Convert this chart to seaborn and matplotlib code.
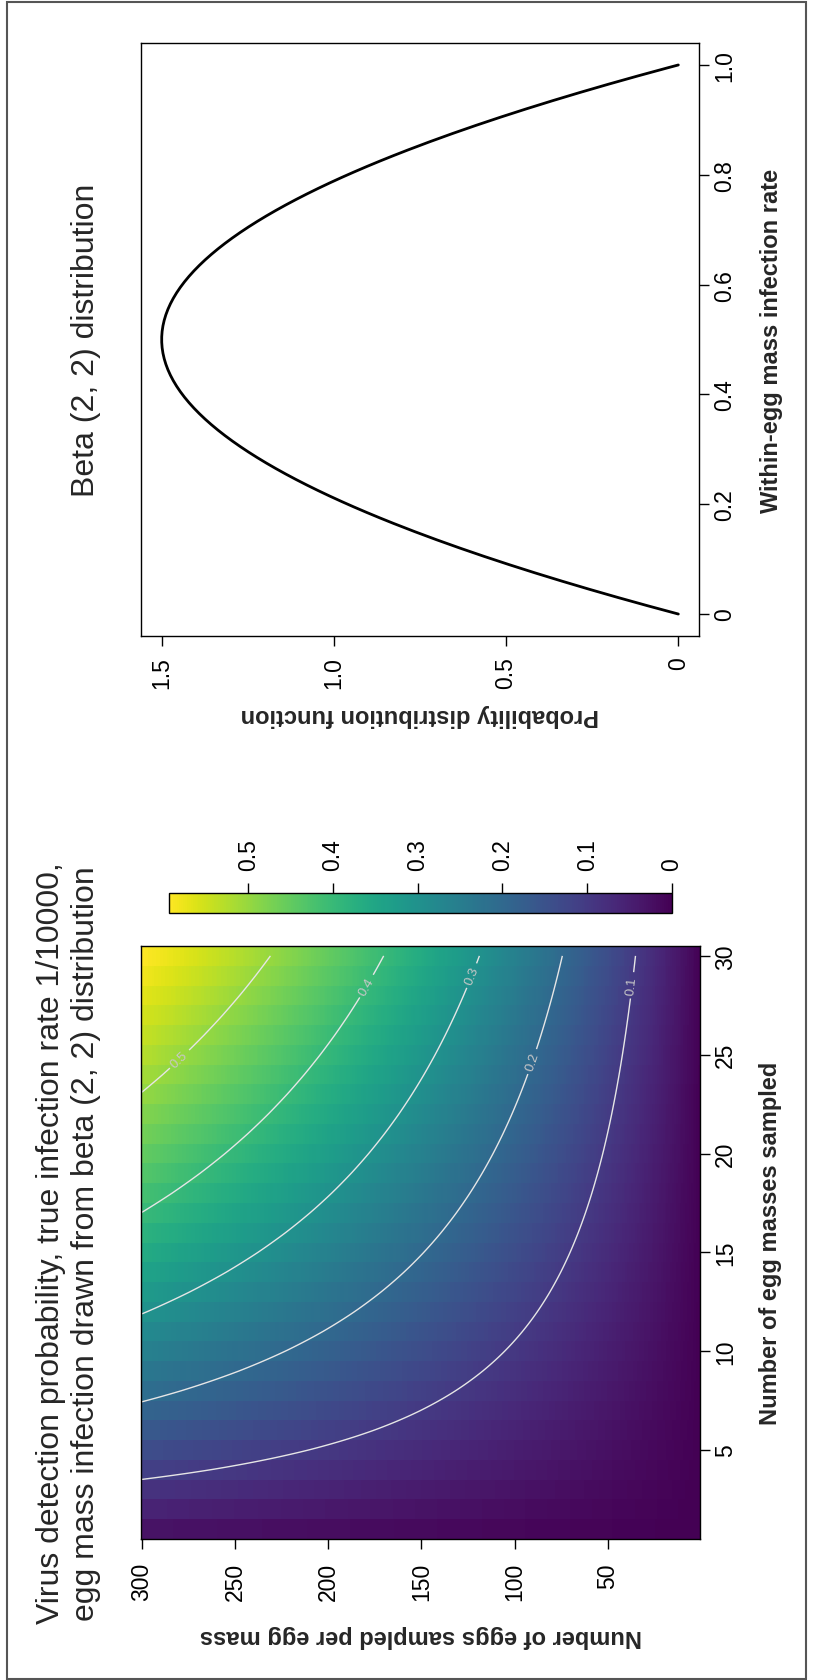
import math
import numpy as np
import pandas as pd
import matplotlib
matplotlib.use("Agg")
import matplotlib.pyplot as plt
import seaborn as sns
from matplotlib.patches import Rectangle

# model settings stated in the titles
infection_rate = 1 / 10000
beta_a, beta_b = 2, 2

egg_masses = np.arange(30, 0, -1)       # heatmap rows, top to bottom
eggs_per_mass = np.arange(300, 0, -1)   # heatmap columns, left to right
rate = np.linspace(0, 1, 201)

mass_ticks = [5, 10, 15, 20, 25, 30]
egg_ticks = [300, 250, 200, 150, 100, 50]
cbar_ticks = [0, 0.1, 0.2, 0.3, 0.4, 0.5]
cbar_labels = ["0", "0.1", "0.2", "0.3", "0.4", "0.5"]
contour_levels = [0.1, 0.2, 0.3, 0.4, 0.5]
dens_ticks = [0, 0.5, 1.0, 1.5]
dens_labels = ["0", "0.5", "1.0", "1.5"]
rate_ticks = [0, 0.2, 0.4, 0.6, 0.8, 1.0]
rate_labels = ["0", "0.2", "0.4", "0.6", "0.8", "1.0"]
# where the contour labels sit: (eggs per mass, egg masses)
label_spots = [(36, 28.5), (92, 24.7), (123, 29.0), (180, 28.5), (283, 25.1)]
heat_title = ["Virus detection probability, true infection rate 1/10000,",
              "egg mass infection drawn from beta (2, 2) distribution"]

detect = 1 - (1 - infection_rate) ** np.outer(egg_masses, eggs_per_mass)
prob_df = pd.DataFrame(detect, index=egg_masses, columns=eggs_per_mass)

beta_const = math.gamma(beta_a + beta_b) / (math.gamma(beta_a) * math.gamma(beta_b))
beta_pdf = beta_const * rate ** (beta_a - 1) * (1 - rate) ** (beta_b - 1)

sns.set_style("ticks")
plt.rcParams["font.family"] = ["Liberation Sans", "DejaVu Sans"]
plt.rcParams["axes.linewidth"] = 1.0
plt.rcParams["axes.edgecolor"] = "black"

W, H = 813, 1681
fig = plt.figure(figsize=(W / 100, H / 100), dpi=100)

def box(x0, y0, x1, y1):
    return [x0 / W, 1 - y1 / H, (x1 - x0) / W, (y1 - y0) / H]

ax_h = fig.add_axes(box(141, 947, 700, 1540))
cax = fig.add_axes(box(169, 894, 672, 914))
ax_b = fig.add_axes(box(141, 44, 699, 637))

tick_kw = dict(direction="out", length=7.2, width=1, labelsize=16.5, colors="black")

# ---- heatmap panel ----
sns.heatmap(prob_df, ax=ax_h, cmap="viridis", cbar_ax=cax,
            cbar_kws={"orientation": "horizontal"},
            xticklabels=False, yticklabels=False)
for s in ax_h.spines.values():
    s.set_visible(True)
    s.set_linewidth(1.0)

X = np.arange(len(eggs_per_mass)) + 0.5
Y = np.arange(len(egg_masses)) + 0.5
cs = ax_h.contour(X, Y, detect, levels=contour_levels, colors="#E6E6E6", linewidths=1.0)
ax_h.clabel(cs, manual=[(300.5 - e, 30.5 - n) for e, n in label_spots],
            fontsize=9.5, colors="#C8C8C8", inline=True, inline_spacing=4,
            fmt=lambda v: f"{v:g}")

ax_h.set_xticks([300.5 - e for e in egg_ticks])
ax_h.set_xticklabels([str(e) for e in egg_ticks], rotation=90)
ax_h.set_yticks([30.5 - n for n in mass_ticks])
ax_h.set_yticklabels([str(n) for n in mass_ticks], rotation=90, va="center")
ax_h.yaxis.tick_right()
ax_h.tick_params(axis="x", bottom=True, pad=9.4, **tick_kw)
ax_h.tick_params(axis="y", left=False, right=True, pad=3, **tick_kw)
ax_h.set_xlabel("")
ax_h.set_ylabel("")

ax_h.text(1.127, 0.5, "Number of egg masses sampled", transform=ax_h.transAxes,
          rotation=90, ha="center", va="center", fontsize=17, fontweight="bold")
ax_h.text(0.5, (1540 - 1637) / 593, "Number of eggs sampled per egg mass",
          transform=ax_h.transAxes, rotation=180, ha="center", va="center",
          fontsize=17, fontweight="bold")
for line, xpix in zip(heat_title, [51, 86]):
    ax_h.text((xpix - 141) / 559, 0.5, line, transform=ax_h.transAxes,
              rotation=90, ha="center", va="center", fontsize=23)

cb = ax_h.collections[0].colorbar
cb.outline.set_visible(True)
cb.outline.set_linewidth(1.0)
cb.outline.set_edgecolor("black")
cb.set_ticks(cbar_ticks, labels=cbar_labels)
cax.invert_xaxis()
cax.xaxis.set_ticks_position("top")
cax.tick_params(axis="x", labelrotation=90, pad=9.4, **tick_kw)

# ---- beta distribution panel ----
sns.lineplot(x=beta_pdf, y=rate, orient="y", ax=ax_b, color="black", lw=2.0)
ax_b.set_xlim(1.56, -0.06)
ax_b.set_ylim(-0.04, 1.04)
ax_b.set_xticks(dens_ticks)
ax_b.set_xticklabels(dens_labels, rotation=90)
ax_b.set_yticks(rate_ticks)
ax_b.set_yticklabels(rate_labels, rotation=90, va="center")
ax_b.yaxis.tick_right()
ax_b.tick_params(axis="x", pad=7.2, **tick_kw)
ax_b.tick_params(axis="y", left=False, right=True, pad=3, **tick_kw)
ax_b.set_xlabel("")
ax_b.set_ylabel("")
for s in ax_b.spines.values():
    s.set_visible(True)

ax_b.text((771 - 141) / 558, 0.5, "Within-egg mass infection rate",
          transform=ax_b.transAxes, rotation=90, ha="center", va="center",
          fontsize=17, fontweight="bold")
ax_b.text(0.5, (637 - 715) / 593, "Probability distribution function",
          transform=ax_b.transAxes, rotation=180, ha="center", va="center",
          fontsize=17, fontweight="bold")
ax_b.text((86 - 141) / 558, 0.5, "Beta (2, 2) distribution",
          transform=ax_b.transAxes, rotation=90, ha="center", va="center",
          fontsize=23)

# outer frame
fig.add_artist(Rectangle((7 / W, 1 - 1680 / H), 799 / W, 1677 / H,
                         transform=fig.transFigure, fill=False,
                         edgecolor="#555555", linewidth=1.5))

fig.savefig("out.png", dpi=100)
